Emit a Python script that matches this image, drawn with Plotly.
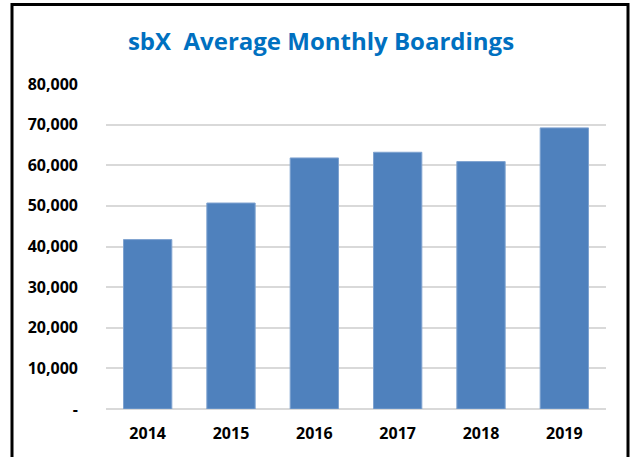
import plotly.graph_objects as go

years = ["2014", "2015", "2016", "2017", "2018", "2019"]
boardings = [41700, 50700, 61800, 63200, 60900, 69200]
tick_vals = [0, 10000, 20000, 30000, 40000, 50000, 60000, 70000, 80000]
tick_text = ["-", "10,000", "20,000", "30,000", "40,000", "50,000", "60,000", "70,000", "80,000"]
title_text = "sbX  Average Monthly Boardings"

W, H = 631, 457
L, R, T, B = 106, 25, 84, 48
pw, ph = W - L - R, H - T - B

def px_x(p):
    return (p - L) / pw

def px_y(p):
    return (H - B - p) / ph

fig = go.Figure(go.Bar(
    x=years, y=boardings,
    marker=dict(color="#4F81BD", line=dict(color="#7FA3D0", width=1)),
    width=0.58,
))

fig.update_layout(
    width=W, height=H,
    margin=dict(l=L, r=R, t=T, b=B),
    paper_bgcolor="white", plot_bgcolor="white",
    showlegend=False,
    font=dict(family="Open Sans", color="black"),
    title=dict(text="<b>" + title_text + "</b>", x=px_x(321), xref="paper", xanchor="center",
               y=1 - 42 / H, yanchor="middle",
               font=dict(family="Open Sans", size=24, color="#0070C0")),
    xaxis=dict(showgrid=False, showline=False, ticks="",
               tickfont=dict(family="Open Sans", size=16, color="black", weight="bold"),
               ticklabelstandoff=13),
    yaxis=dict(range=[0, 80000], tickvals=tick_vals, ticktext=tick_text,
               showgrid=True, gridcolor="#D9D9D9", gridwidth=2,
               zeroline=True, zerolinecolor="#D9D9D9", zerolinewidth=2,
               showline=False, ticks="",
               tickfont=dict(family="Open Sans", size=16, color="black", weight="bold"),
               ticklabelstandoff=27),
)

fig.add_shape(type="rect", xref="paper", yref="paper",
              x0=px_x(12), x1=px_x(628), y0=px_y(470), y1=px_y(4.5),
              line=dict(color="black", width=3), fillcolor="rgba(0,0,0,0)", layer="above")

fig.write_html("out.html", post_script="document.body.style.margin='0';",
               config={"displayModeBar": False})
